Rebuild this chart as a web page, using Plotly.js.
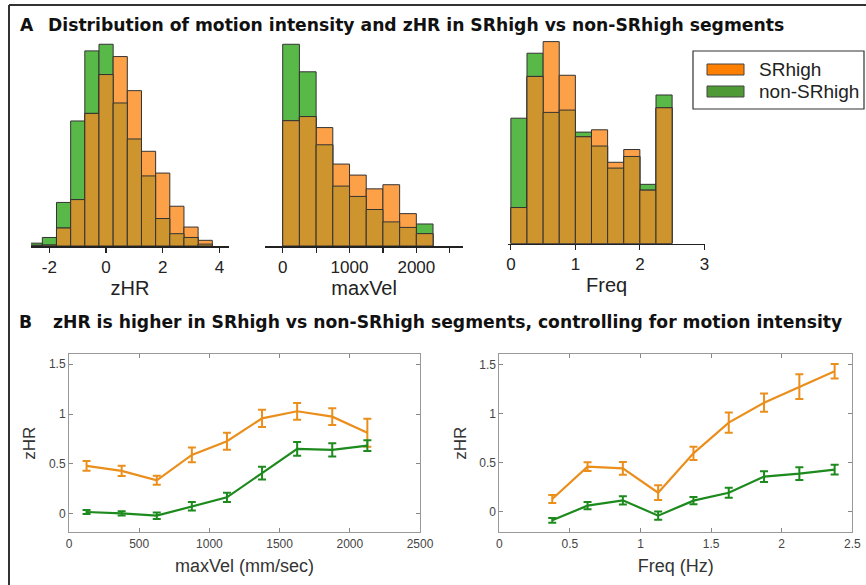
<!DOCTYPE html>
<html>
<head>
<meta charset="utf-8">
<script src="https://cdn.plot.ly/plotly-3.0.1.min.js"></script>
<style>html,body{margin:0;padding:0;background:#fff;}#chart{width:866px;height:585px;}</style>
</head>
<body>
<div id="chart"></div>
<script>
// ---------- Panel A: histogram data (percent of segments per bin) ----------
const zhrBins       = [-2.5, -2.0, -1.5, -1.0, -0.5, 0.0, 0.5, 1.0, 1.5, 2.0, 2.5, 3.0, 3.5];
const zhrNonSR      = [0.3, 0.9, 4.6, 13.2, 20.6, 21.3, 15.1, 11.3, 7.4, 2.9, 1.3, 0.9, 0.2];
const zhrSR         = [0.07, 0.1, 1.9, 4.9, 14.0, 18.1, 20.0, 16.4, 10.0, 7.7, 4.2, 2.0, 0.6];

const velBins       = [125, 375, 625, 875, 1125, 1375, 1625, 1875, 2125];
const velNonSR      = [29.3, 25.3, 14.7, 8.7, 7.2, 5.3, 3.5, 2.7, 3.2];
const velSR         = [18.2, 18.8, 17.2, 11.9, 10.3, 8.3, 8.9, 4.7, 1.8];

const freqBins      = [0.125, 0.375, 0.625, 0.875, 1.125, 1.375, 1.625, 1.875, 2.125, 2.375];
const freqNonSR     = [10.8, 16.4, 11.3, 11.5, 9.6, 8.4, 6.5, 7.5, 5.1, 12.8];
const freqSR        = [3.1, 14.4, 17.4, 14.5, 9.2, 9.8, 7.0, 8.1, 4.6, 11.7];

// ---------- Panel B: mean zHR with error bars ----------
const velCenters    = [125, 375, 625, 875, 1125, 1375, 1625, 1875, 2125];
const velZhrSR      = [0.48, 0.43, 0.335, 0.59, 0.727, 0.957, 1.028, 0.974, 0.813];
const velErrSR      = [0.05, 0.052, 0.045, 0.074, 0.085, 0.087, 0.084, 0.084, 0.14];
const velZhrNon     = [0.017, 0.003, -0.02, 0.074, 0.164, 0.408, 0.65, 0.64, 0.683];
const velErrNon     = [0.02, 0.022, 0.033, 0.042, 0.047, 0.064, 0.069, 0.067, 0.055];

const freqCenters   = [0.375, 0.625, 0.875, 1.125, 1.375, 1.625, 1.875, 2.125, 2.375];
const freqZhrSR     = [0.126, 0.456, 0.439, 0.19, 0.592, 0.905, 1.109, 1.272, 1.429];
const freqErrSR     = [0.041, 0.044, 0.065, 0.075, 0.068, 0.104, 0.094, 0.126, 0.073];
const freqZhrNon    = [-0.092, 0.058, 0.112, -0.044, 0.109, 0.19, 0.354, 0.384, 0.425];
const freqErrNon    = [0.024, 0.037, 0.043, 0.043, 0.037, 0.051, 0.056, 0.065, 0.049];

// ---------- tick labels ----------
const zhrTicks   = [-2, 0, 2, 4];
const zhrLabels  = ['-2', '0', '2', '4'];
const velTicks   = [0, 500, 1000, 1500, 2000, 2500];
const velLabels  = ['0', '', '1000', '', '2000', ''];
const freqTicks  = [0, 1, 2, 3];
const freqLabels = ['0', '1', '2', '3'];
const bVelTicks  = [0, 500, 1000, 1500, 2000, 2500];
const bVelLabels = ['0', '500', '1000', '1500', '2000', '2500'];
const bFreqTicks = [0, 0.5, 1, 1.5, 2, 2.5];
const bFreqLabels= ['0', '0.5', '1', '1.5', '2', '2.5'];
const bYTicks    = [0, 0.5, 1, 1.5];
const bYLabels   = ['0', '0.5', '1', '1.5'];

// ---------- styling ----------
const W = 866, H = 585;
const px = x => x / W;
const py = y => 1 - y / H;
const GREEN = '#58B948', ORANGE = '#FDA148', OVERLAP = '#CE942E';
const LINE_OR = '#EA8E1C', LINE_GR = '#1C8A1C';
const EDGE = {color: '#333', width: 1};

function histTraces(bins, nonSR, sr, width, xa, ya) {
  const overlap = nonSR.map((v, i) => Math.min(v, sr[i]));
  const mk = (y, c) => ({type: 'bar', x: bins, y: y, width: width, xaxis: xa, yaxis: ya,
    marker: {color: c, line: EDGE}, showlegend: false, hoverinfo: 'x+y'});
  return [mk(nonSR, GREEN), mk(sr, ORANGE), mk(overlap, OVERLAP)];
}

function lineTrace(x, y, err, color, xa, ya) {
  return {type: 'scatter', mode: 'lines', x: x, y: y, xaxis: xa, yaxis: ya,
    line: {color: color, width: 2.2},
    error_y: {type: 'data', array: err, visible: true, color: color, thickness: 2, width: 4},
    showlegend: false};
}

const data = [
  ...histTraces(zhrBins, zhrNonSR, zhrSR, 0.5, 'x', 'y'),
  ...histTraces(velBins, velNonSR, velSR, 250, 'x2', 'y2'),
  ...histTraces(freqBins, freqNonSR, freqSR, 0.25, 'x3', 'y3'),
  lineTrace(velCenters, velZhrSR, velErrSR, LINE_OR, 'x4', 'y4'),
  lineTrace(velCenters, velZhrNon, velErrNon, LINE_GR, 'x4', 'y4'),
  lineTrace(freqCenters, freqZhrSR, freqErrSR, LINE_OR, 'x5', 'y5'),
  lineTrace(freqCenters, freqZhrNon, freqErrNon, LINE_GR, 'x5', 'y5')
];

const FONT = 'Liberation Sans, Arial, sans-serif';

function histX(domain, range, tv, tt, title, ya) {
  return {domain: domain, range: range, anchor: ya, tickvals: tv, ticktext: tt,
    ticks: 'outside', ticklen: 5, tickwidth: 1.2, tickcolor: '#222',
    showline: true, linecolor: '#222', linewidth: 1.5, showgrid: false, zeroline: false,
    tickfont: {family: FONT, size: 17, color: '#222'},
    title: {text: title, font: {family: FONT, size: 20, color: '#222'}, standoff: 4},
    fixedrange: true};
}
function histY(domain, range) {
  return {domain: domain, range: range, visible: false, fixedrange: true};
}
function bX(domain, range, tv, tt, title, ya) {
  return {domain: domain, range: range, anchor: ya, tickvals: tv, ticktext: tt,
    ticks: 'inside', ticklen: 4, tickcolor: '#888', mirror: 'allticks',
    showline: true, linecolor: '#999', linewidth: 1, showgrid: false, zeroline: false,
    tickfont: {family: FONT, size: 12, color: '#444'},
    title: {text: title, font: {family: FONT, size: 18, color: '#333'}, standoff: 9},
    fixedrange: true};
}
function bY(domain, range, xa) {
  return {domain: domain, range: range, anchor: xa, tickvals: bYTicks, ticktext: bYLabels,
    ticks: 'inside', ticklen: 4, tickcolor: '#888', mirror: 'allticks',
    showline: true, linecolor: '#999', linewidth: 1, showgrid: false, zeroline: false,
    tickfont: {family: FONT, size: 12, color: '#444'},
    title: {text: 'zHR', font: {family: FONT, size: 17, color: '#333'}, standoff: 8},
    fixedrange: true};
}

const TITLE_FONT = {family: 'DejaVu Sans, Liberation Sans, sans-serif', size: 17.2, color: '#111'};

const layout = {
  width: W, height: H,
  margin: {l: 0, r: 0, t: 0, b: 0},
  paper_bgcolor: '#fff', plot_bgcolor: 'rgba(0,0,0,0)',
  barmode: 'overlay', bargap: 0,
  showlegend: false,
  xaxis:  histX([px(31), px(229)], [-2.65, 4.34], zhrTicks, zhrLabels, 'zHR', 'y'),
  yaxis:  histY([py(246), py(40)], [0, 21.75]),
  xaxis2: histX([px(265), px(463.3)], [-265, 2703], velTicks, velLabels, 'maxVel', 'y2'),
  yaxis2: histY([py(246), py(40)], [0, 29.92]),
  xaxis3: histX([px(508.3), px(705)], [-0.04, 3.01], freqTicks, freqLabels, 'Freq', 'y3'),
  yaxis3: histY([py(243.5), py(40)], [0, 17.54]),
  xaxis4: bX([px(69), px(420)], [0, 2500], bVelTicks, bVelLabels, 'maxVel (mm/sec)', 'y4'),
  yaxis4: bY([py(532.3), py(354.3)], [-0.187, 1.6], 'x4'),
  xaxis5: bX([px(499.3), px(852.3)], [0, 2.5], bFreqTicks, bFreqLabels, 'Freq (Hz)', 'y5'),
  yaxis5: bY([py(532.3), py(354.3)], [-0.214, 1.602], 'x5'),
  shapes: [
    // figure frame (left and top)
    {type: 'line', xref: 'paper', yref: 'paper', x0: px(9), x1: px(9), y0: 0, y1: py(5), line: {color: '#333', width: 2}},
    {type: 'line', xref: 'paper', yref: 'paper', x0: px(9), x1: 1, y0: py(5), y1: py(5), line: {color: '#333', width: 2}},
    // legend box
    {type: 'rect', xref: 'paper', yref: 'paper', x0: px(693), x1: px(864), y0: py(109), y1: py(51), line: {color: '#333', width: 1.2}, fillcolor: '#fff'},
    {type: 'rect', xref: 'paper', yref: 'paper', x0: px(707), x1: px(744), y0: py(75), y1: py(64), line: {color: '#444', width: 1}, fillcolor: '#FF8000'},
    {type: 'rect', xref: 'paper', yref: 'paper', x0: px(707), x1: px(744), y0: py(97), y1: py(86), line: {color: '#444', width: 1}, fillcolor: '#4E9A34'}
  ],
  annotations: [
    {xref: 'paper', yref: 'paper', x: px(18), y: py(25), xanchor: 'left', yanchor: 'middle', showarrow: false,
     text: '<b>A</b>', font: TITLE_FONT},
    {xref: 'paper', yref: 'paper', x: px(46), y: py(25), xanchor: 'left', yanchor: 'middle', showarrow: false,
     text: '<b>Distribution of motion intensity and zHR in SRhigh vs non-SRhigh segments</b>', font: TITLE_FONT},
    {xref: 'paper', yref: 'paper', x: px(17), y: py(322), xanchor: 'left', yanchor: 'middle', showarrow: false,
     text: '<b>B</b>', font: TITLE_FONT},
    {xref: 'paper', yref: 'paper', x: px(51), y: py(322), xanchor: 'left', yanchor: 'middle', showarrow: false,
     text: '<b>zHR is higher in SRhigh vs non-SRhigh segments, controlling for motion intensity</b>', font: TITLE_FONT},
    {xref: 'paper', yref: 'paper', x: px(757), y: py(69.5), xanchor: 'left', yanchor: 'middle', showarrow: false,
     text: 'SRhigh', font: {family: FONT, size: 19, color: '#222'}},
    {xref: 'paper', yref: 'paper', x: px(757), y: py(91), xanchor: 'left', yanchor: 'middle', showarrow: false,
     text: 'non-SRhigh', font: {family: FONT, size: 19, color: '#222'}}
  ]
};

Plotly.newPlot('chart', data, layout, {displayModeBar: false, staticPlot: true});
</script>
</body>
</html>
